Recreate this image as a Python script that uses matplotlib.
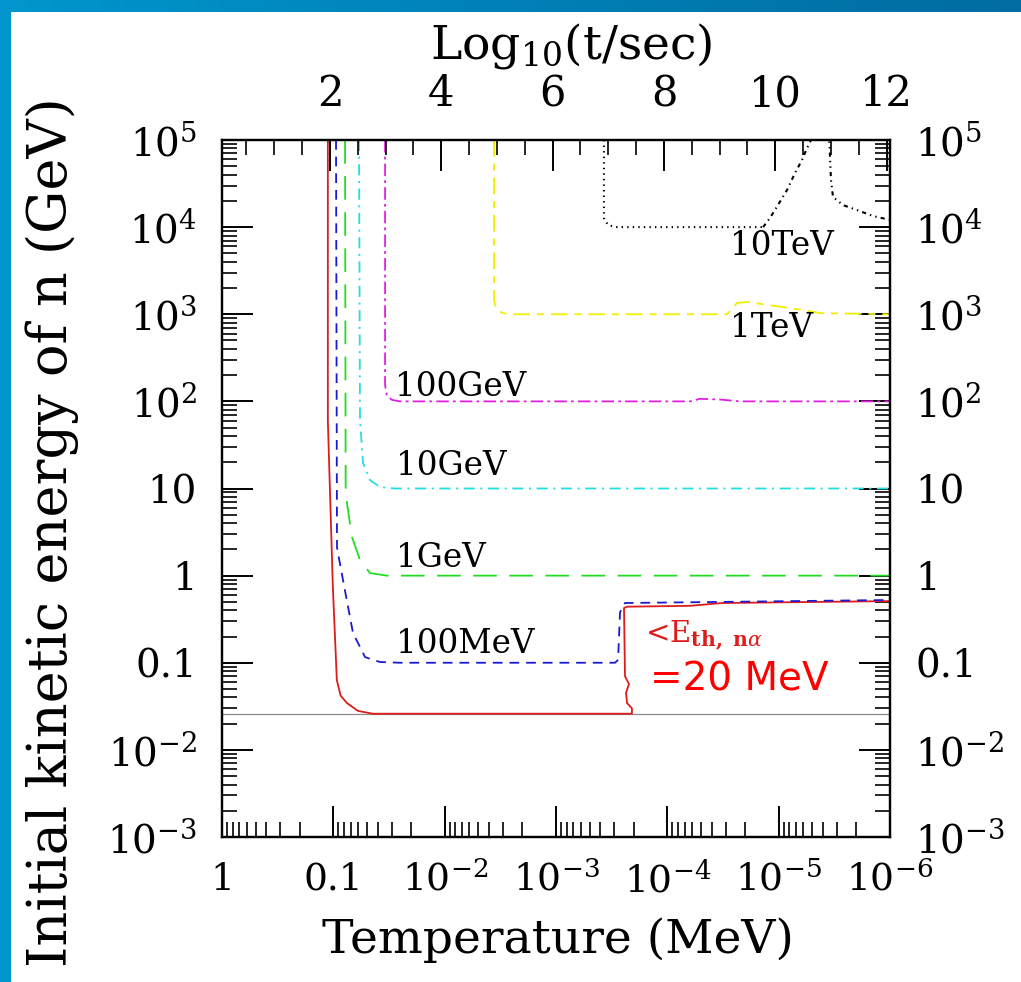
import numpy as np
import matplotlib
matplotlib.use('Agg')
import matplotlib.pyplot as plt
from matplotlib.ticker import FixedLocator, FixedFormatter, LogLocator, MultipleLocator, NullFormatter
from matplotlib.patches import Rectangle

plt.rcParams['font.family'] = 'DejaVu Serif'
plt.rcParams['mathtext.fontset'] = 'dejavuserif'
plt.rcParams['lines.scale_dashes'] = False

# temperature (MeV) vs initial neutron kinetic energy (GeV) for each injection energy
red_T = [0.112, 0.112, 0.101, 0.093, 0.086, 0.0755, 0.060, 0.044, 2.08e-4, 2.08e-4, 2.30e-4,
         2.35e-4, 2.21e-4, 2.40e-4, 2.45e-4, 2.30e-4, 6.3e-5, 3.2e-5, 1e-6]
red_E = [1e5, 60, 0.74, 0.063, 0.042, 0.0345, 0.028, 0.026, 0.026, 0.030, 0.0345,
         0.045, 0.057, 0.070, 0.425, 0.44, 0.45, 0.485, 0.51]

blue_T = [0.0946, 0.0927, 0.0819, 0.0666, 0.0519, 0.0381, 0.0252, 2.95e-4, 2.77e-4, 2.66e-4, 2.40e-4, 1e-6]
blue_E = [1e5, 2.1, 0.89, 0.22, 0.116, 0.102, 0.1, 0.1, 0.108, 0.38, 0.485, 0.525]

green_T = [0.0785, 0.0775, 0.0754, 0.068, 0.0576, 0.0469, 0.033, 1e-6]
green_E = [1e5, 10.4, 6.8, 2.77, 1.51, 1.07, 1.0, 1.0]

cyan_T = [0.0588, 0.0576, 0.0541, 0.0469, 0.0381, 0.0279, 1e-6]
cyan_E = [1e5, 61, 19.6, 12.5, 10.4, 10, 10]

magenta_T = [0.0343, 0.0343, 0.033, 0.0297, 0.0252, 6.25e-5, 5.1e-5, 3.36e-5, 2.22e-5, 1e-6]
magenta_E = [1e5, 154, 115, 104, 100, 100, 107, 105, 100, 100]

yellow_T = [3.6e-3, 3.6e-3, 3.46e-3, 3.05e-3, 2.59e-3, 2.91e-5, 2.37e-5, 1.92e-5, 6.04e-6, 4.25e-6, 1e-6]
yellow_E = [1e5, 1456, 1180, 1033, 1000, 1000, 1346, 1384, 1119, 1030, 1000]

# 10 TeV: flat part, rising part, and the branch coming back down
black_T = [3.71e-4, 3.71e-4, 3.41e-4, 2.95e-4, 1.38e-5]
black_E = [1e5, 12700, 10600, 1e4, 1e4]
black_rise_T = [1.38e-5, 1.20e-5, 1.04e-5, 8.41e-6, 7.13e-6, 6.17e-6, 5.56e-6, 5.22e-6, 4.9e-6]
black_rise_E = [1e4, 12700, 17000, 26700, 41800, 58900, 80900, 94900, 1.2e5]
black_back_T = [3.53e-6, 3.39e-6, 3.25e-6, 2.64e-6, 1.98e-6, 1.42e-6, 1e-6]
black_back_E = [1.2e5, 34800, 22200, 17900, 15700, 13400, 12100]

E_threshold = 0.026

x_ticks = [1, 0.1, 1e-2, 1e-3, 1e-4, 1e-5, 1e-6]
x_ticklabels = ['1', '0.1', '$10^{-2}$', '$10^{-3}$', '$10^{-4}$', '$10^{-5}$', '$10^{-6}$']
y_ticks = [1e-3, 1e-2, 0.1, 1, 10, 1e2, 1e3, 1e4, 1e5]
y_ticklabels = ['$10^{-3}$', '$10^{-2}$', '0.1', '1', '10', '$10^{2}$', '$10^{3}$', '$10^{4}$', '$10^{5}$']
t_ticks = [2, 4, 6, 8, 10, 12]

curve_labels = ['100GeV', '10GeV', '1GeV', '100MeV', '10TeV', '1TeV']
label_T = [0.0279, 0.0273, 0.0273, 0.0273, 2.73e-5, 2.73e-5]
label_E = [115, 14.3, 1.26, 0.129, 4790, 548]

T_min, T_max = 1e-6, 1.0

fig = plt.figure(figsize=(10.21, 9.82), dpi=100)

# blue frame along the left and top edges
fig.patches.append(Rectangle((0, 0), 10 / 1021, 1, transform=fig.transFigure,
                             color=(0, 150 / 255, 205 / 255), zorder=0))
band = fig.add_axes([0, 1 - 12 / 982, 1, 12 / 982])
grad = np.linspace(0, 1, 256)[None, :, None]
c0 = np.array([0, 150, 205]) / 255
c1 = np.array([0, 108, 162]) / 255
band.imshow(c0 + (c1 - c0) * grad, aspect='auto', extent=(0, 1, 0, 1))
band.axis('off')

ax = fig.add_axes([222 / 1021, 1 - 837 / 982, 668 / 1021, 697 / 982])
ax.set_xscale('log')
ax.set_yscale('log')
ax.set_xlim(T_max, T_min)
ax.set_ylim(1e-3, 1e5)

lw = 1.3
ax.axhline(E_threshold, color='#8a8a8a', lw=0.9, zorder=1)
ax.plot(red_T, red_E, color='#dd1c1c', lw=lw)
ax.plot(blue_T, blue_E, color='#1a1ad2', lw=lw, linestyle=(0, (7, 5)))
ax.plot(green_T, green_E, color='#22dd22', lw=lw, linestyle=(0, (17, 9)))
ax.plot(cyan_T, cyan_E, color='#22e0e0', lw=lw, linestyle=(0, (8, 4, 1.5, 4)))
ax.plot(magenta_T, magenta_E, color='#e020e0', lw=lw, linestyle=(0, (9, 3, 2, 3)))
ax.plot(yellow_T, yellow_E, color='#f0f000', lw=lw, linestyle=(0, (12, 5, 5, 5)))
ax.plot(black_T, black_E, color='black', lw=1.5, linestyle=(0, (1, 3)))
ax.plot(black_rise_T, black_rise_E, color='black', lw=1.5, linestyle=(0, (3, 3, 1, 3)))
ax.plot(black_back_T, black_back_E, color='black', lw=1.5, linestyle=(0, (3, 3, 1, 3, 1, 3)))

for lab, t, e in zip(curve_labels, label_T, label_E):
    ax.text(t, e, lab, fontsize=23.5, ha='left', va='baseline')

ax.text(1.59e-4, 0.169, r'<E$_{\mathbf{th,\ n}\alpha}$', fontsize=21, color='#dd1c1c',
        ha='left', va='baseline')
ax.text(1.43e-4, 0.0486, '=20 MeV', fontsize=28, color='#ff0000', family='DejaVu Sans',
        ha='left', va='baseline')

# bottom temperature axis
ax.xaxis.set_major_locator(FixedLocator(x_ticks))
ax.xaxis.set_major_formatter(FixedFormatter(x_ticklabels))
ax.xaxis.set_minor_locator(LogLocator(base=10, subs=np.arange(2, 10), numticks=50))
ax.xaxis.set_minor_formatter(NullFormatter())

# energy axis, labelled on both sides
ax.yaxis.set_major_locator(FixedLocator(y_ticks))
ax.yaxis.set_major_formatter(FixedFormatter(y_ticklabels))
ax.yaxis.set_minor_locator(LogLocator(base=10, subs=np.arange(2, 10), numticks=50))
ax.yaxis.set_minor_formatter(NullFormatter())

ax.tick_params(axis='x', which='both', direction='in', top=False, bottom=True)
ax.tick_params(axis='y', which='both', direction='in', left=True, right=True,
               labelleft=True, labelright=True)
ax.tick_params(which='major', length=22, width=1.4, labelsize=28)
ax.tick_params(which='minor', length=11, width=1.2)
ax.tick_params(axis='x', which='major', pad=18, labelsize=27)
ax.tick_params(axis='y', which='major', pad=18)
for spine in ax.spines.values():
    spine.set_linewidth(1.6)


# cosmic time at the top: log10(t/s) ~ 0.06 - 2 log10(T/MeV)
def log_t(T):
    return 0.06 - 2 * np.log10(T)


tax = ax.twiny()
tax.set_xlim(log_t(T_max), log_t(T_min))
tax.xaxis.set_major_locator(FixedLocator(t_ticks))
tax.xaxis.set_minor_locator(MultipleLocator(0.5))
tax.tick_params(axis='x', which='both', direction='in', top=True, bottom=False)
tax.tick_params(axis='x', which='major', length=22, width=1.4, labelsize=30, pad=18)
tax.tick_params(axis='x', which='minor', length=11, width=1.2)
for spine in tax.spines.values():
    spine.set_linewidth(1.6)

fig.text(558 / 1021, 1 - 940 / 982, 'Temperature (MeV)', fontsize=34, ha='center', va='center')
fig.text(52 / 1021, 1 - 532 / 982, 'Initial kinetic energy of n (GeV)', fontsize=39,
         ha='center', va='center', rotation=90)
fig.text(571 / 1021, 1 - 46 / 982, r'Log$_{10}$(t/sec)', fontsize=34, ha='center', va='center')

fig.savefig('out.png', dpi=100)
